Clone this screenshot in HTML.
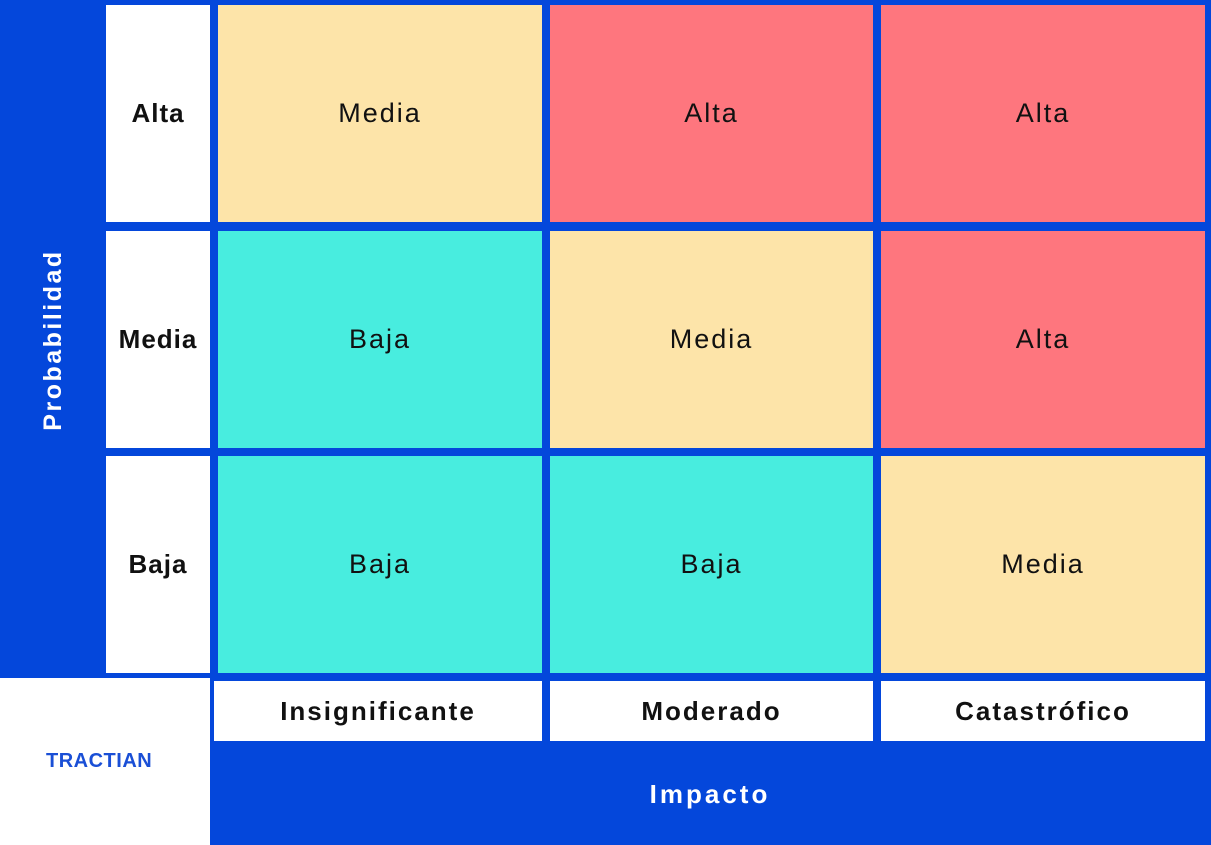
<!DOCTYPE html>
<html><head><meta charset="utf-8"><style>
body{margin:0;width:1211px;height:845px;position:relative;background:#fff;font-family:"Liberation Sans",sans-serif;overflow:hidden}
.a{position:absolute}
.c{position:absolute;display:flex;align-items:center;justify-content:center;font-size:27px;letter-spacing:2px;color:#111}
.b{font-weight:bold;font-size:26px;letter-spacing:2px}
</style></head><body>
<div class="a" style="left:0;top:0;width:1211px;height:678px;background:#0447db"></div>
<div class="a" style="left:210px;top:677px;width:1001px;height:168px;background:#0447db"></div>
<div class="c b" style="left:211px;top:745px;width:998px;height:98px;color:#fff;font-size:26px;letter-spacing:3px">Impacto</div>
<div class="c b" style="left:-70px;top:320px;width:246px;height:40px;color:#fff;font-size:25px;letter-spacing:2.5px;transform:rotate(-90deg)">Probabilidad</div>
<div class="a" style="left:46px;top:750px;font-weight:bold;font-size:20px;color:#1a4fd6;letter-spacing:0.5px">TRACTIAN</div>
<div id="chart"></div>
<script>
const rowLabels=["Alta","Media","Baja"];
const colLabels=["Insignificante","Moderado","Catastrófico"];
const levels=[["Media","Alta","Alta"],["Baja","Media","Alta"],["Baja","Baja","Media"]];
const colors={Baja:"#48eddf",Media:"#fde4a9",Alta:"#fe767e"};
const colX=[218,550,881],colW=[324,323,324];
const rowY=[5,231,456],rowH=[217,217,217];
const ch=document.getElementById('chart');
function mk(cls,x,y,w,h,txt,bg){const d=document.createElement('div');d.className=cls;d.style.left=x+'px';d.style.top=y+'px';d.style.width=w+'px';d.style.height=h+'px';d.style.background=bg;d.textContent=txt;ch.appendChild(d);return d;}
rowLabels.forEach((r,i)=>{const d=mk('c b',106,rowY[i],104,rowH[i],r,'#fff');d.style.letterSpacing='1px';

});
colLabels.forEach((c,j)=>{const d=mk('c b',colX[j],681,colW[j],60,c,'#fff');d.style.left=(j==0?214:colX[j])+'px';d.style.width=(j==0?328:colW[j])+'px';

});
levels.forEach((row,i)=>row.forEach((v,j)=>{const d=mk('c',colX[j],rowY[i],colW[j],rowH[i],v,colors[v]);

}));
</script>
</body></html>
